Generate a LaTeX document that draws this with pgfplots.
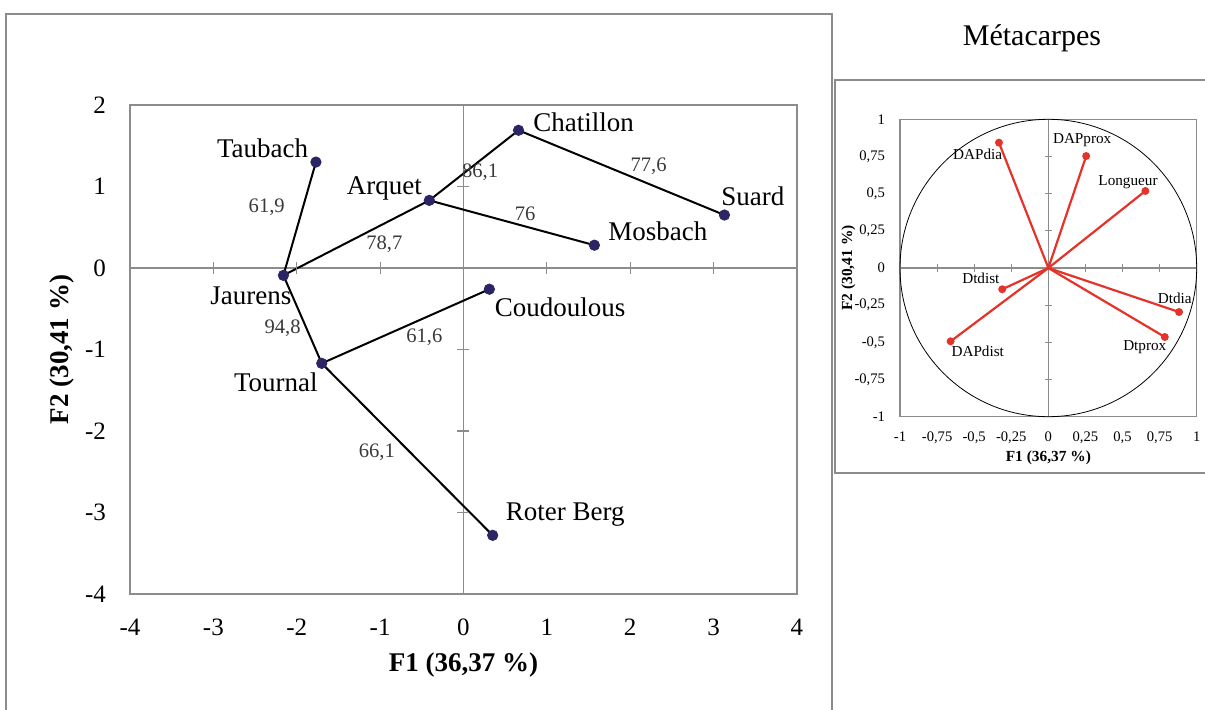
\documentclass[border=0pt]{standalone}
\usepackage{fontspec}
\setmainfont{Liberation Serif}
\usepackage{pgfplots}
\pgfplotsset{compat=1.18}
\definecolor{dotblue}{HTML}{2B2566}
\definecolor{vecred}{HTML}{E5332A}
\definecolor{framegray}{HTML}{8C8C8C}
\definecolor{numgray}{HTML}{3A3A3A}
\begin{document}
\begin{tikzpicture}
\useasboundingbox (0,0) rectangle (602.5pt,354.5pt);
% outer frames
\draw[framegray, line width=0.9pt] (3pt,-5pt) rectangle (416pt,347.5pt);
\draw[framegray, line width=0.9pt] (417.5pt,118pt) rectangle (604pt,314.5pt);
\node[font=\fontsize{15}{15}\selectfont] at (516pt,335.5pt) {Métacarpes};

% ---------- individuals ----------
\begin{axis}[
  at={(65pt,57.5pt)}, anchor=south west,
  scale only axis, width=333.5pt, height=244.5pt,
  xmin=-4, xmax=4, ymin=-4, ymax=2,
  clip=false,
  axis line style={framegray, line width=0.6pt},
  major tick length=0pt,
  xtick={-4,-3,-2,-1,0,1,2,3,4},
  xticklabels={-4,-3,-2,-1,0,1,2,3,4},
  ytick={-4,-3,-2,-1,0,1,2},
  yticklabels={-4,-3,-2,-1,0,1,2},
  tick label style={font=\fontsize{12.5}{12.5}\selectfont},
  xticklabel style={yshift=-9pt},
  yticklabel style={xshift=-8.5pt},
  xlabel={\textbf{F1 (36,37 \%)}},
  ylabel={\textbf{F2 (30,41 \%)}},
  label style={font=\fontsize{13.5}{13.5}\selectfont},
  xlabel style={at={(axis description cs:0.5,-0.145)}, anchor=center},
  ylabel style={at={(axis description cs:-0.102,0.5)}, anchor=center},
]
\draw[framegray, line width=0.6pt] (axis cs:-4,0) -- (axis cs:4,0);
\draw[framegray, line width=0.6pt] (axis cs:0,-4) -- (axis cs:0,2);
\addplot[only marks, framegray, mark=|, mark size=3pt, mark options={line width=0.6pt}]
  coordinates {(-3,0) (-2,0) (-1,0) (1,0) (2,0) (3,0)};
\addplot[only marks, framegray, mark=-, mark size=3pt, mark options={line width=0.6pt}]
  coordinates {(0,-3) (0,-2) (0,-1) (0,1)};
% links
\addplot[black, line width=1pt, no marks] coordinates {(-1.77,1.30) (-2.16,-0.09)};
\addplot[black, line width=1pt, no marks] coordinates {(-2.16,-0.09) (-0.41,0.83)};
\addplot[black, line width=1pt, no marks] coordinates {(-0.41,0.83) (0.66,1.69)};
\addplot[black, line width=1pt, no marks] coordinates {(0.66,1.69) (3.13,0.65)};
\addplot[black, line width=1pt, no marks] coordinates {(-0.41,0.83) (1.57,0.28)};
\addplot[black, line width=1pt, no marks] coordinates {(-2.16,-0.09) (-1.70,-1.17)};
\addplot[black, line width=1pt, no marks] coordinates {(-1.70,-1.17) (0.31,-0.26)};
\addplot[black, line width=1pt, no marks] coordinates {(-1.70,-1.17) (0.35,-3.28)};
% sites
\addplot[only marks, mark=*, mark size=2.6pt, dotblue] coordinates {
  (-1.77,1.30) (-2.16,-0.09) (-0.41,0.83) (0.66,1.69) (3.13,0.65)
  (1.57,0.28) (0.31,-0.26) (-1.70,-1.17) (0.35,-3.28)};
\begin{scope}[font=\fontsize{13.5}{13.5}\selectfont]
\node at (axis cs:-2.41,1.47) {Taubach};
\node at (axis cs:-0.95,0.98) {Arquet};
\node at (axis cs:1.44,1.79) {Chatillon};
\node at (axis cs:3.47,0.88) {Suard};
\node at (axis cs:2.33,0.45) {Mosbach};
\node at (axis cs:-2.55,-0.34) {Jaurens};
\node at (axis cs:1.16,-0.48) {Coudoulous};
\node at (axis cs:-2.25,-1.40) {Tournal};
\node at (axis cs:1.22,-3.02) {Roter Berg};
\end{scope}
\begin{scope}[font=\fontsize{10.3}{10.3}\selectfont, text=numgray]
\node at (axis cs:-2.36,0.74) {61,9};
\node at (axis cs:-0.95,0.29) {78,7};
\node at (axis cs:0.20,1.18) {86,1};
\node at (axis cs:2.22,1.25) {77,6};
\node at (axis cs:0.74,0.67) {76};
\node at (axis cs:-2.17,-0.74) {94,8};
\node at (axis cs:-0.47,-0.85) {61,6};
\node at (axis cs:-1.04,-2.26) {66,1};
\end{scope}
\end{axis}

% ---------- variables ----------
\begin{axis}[
  at={(450pt,146.15pt)}, anchor=south west,
  scale only axis, width=148.35pt, height=148.7pt,
  xmin=-1, xmax=1, ymin=-1, ymax=1,
  clip=false,
  axis line style={framegray, line width=0.6pt},
  major tick length=0pt,
  xtick={-1,-0.75,-0.5,-0.25,0,0.25,0.5,0.75,1},
  xticklabels={{-1},{-0,75},{-0,5},{-0,25},{0},{0,25},{0,5},{0,75},{1}},
  ytick={-1,-0.75,-0.5,-0.25,0,0.25,0.5,0.75,1},
  yticklabels={{-1},{-0,75},{-0,5},{-0,25},{0},{0,25},{0,5},{0,75},{1}},
  tick label style={font=\fontsize{7.3}{7.3}\selectfont},
  xticklabel style={yshift=-4pt},
  yticklabel style={xshift=-4pt},
  xlabel={\textbf{F1 (36,37 \%)}},
  ylabel={\textbf{F2 (30,41 \%)}},
  label style={font=\fontsize{7.7}{7.7}\selectfont},
  xlabel style={at={(axis description cs:0.5,-0.139)}, anchor=center},
  ylabel style={at={(axis description cs:-0.174,0.5)}, anchor=center},
]
\draw[framegray, line width=0.6pt] (axis cs:-1,0) -- (axis cs:1,0);
\draw[framegray, line width=0.6pt] (axis cs:0,-1) -- (axis cs:0,1);
\addplot[only marks, framegray, mark=|, mark size=1.8pt, mark options={line width=0.5pt}]
  coordinates {(-0.75,0) (-0.5,0) (-0.25,0) (0.25,0) (0.5,0) (0.75,0)};
\addplot[only marks, framegray, mark=-, mark size=1.8pt, mark options={line width=0.5pt}]
  coordinates {(0,-0.75) (0,-0.5) (0,-0.25) (0,0.25) (0,0.5) (0,0.75)};
\draw[black, line width=0.4pt] (axis cs:0,0) ellipse [x radius=1, y radius=1];
\addplot[vecred, line width=1.1pt, mark=*, mark size=1.4pt, mark indices={2}] coordinates {(0,0) (-0.333,0.843)};
\addplot[vecred, line width=1.1pt, mark=*, mark size=1.4pt, mark indices={2}] coordinates {(0,0) (0.255,0.753)};
\addplot[vecred, line width=1.1pt, mark=*, mark size=1.4pt, mark indices={2}] coordinates {(0,0) (0.654,0.518)};
\addplot[vecred, line width=1.1pt, mark=*, mark size=1.4pt, mark indices={2}] coordinates {(0,0) (0.881,-0.296)};
\addplot[vecred, line width=1.1pt, mark=*, mark size=1.4pt, mark indices={2}] coordinates {(0,0) (0.785,-0.464)};
\addplot[vecred, line width=1.1pt, mark=*, mark size=1.4pt, mark indices={2}] coordinates {(0,0) (-0.659,-0.493)};
\addplot[vecred, line width=1.1pt, mark=*, mark size=1.4pt, mark indices={2}] coordinates {(0,0) (-0.311,-0.143)};
\begin{scope}[font=\fontsize{7.6}{7.6}\selectfont]
\node at (axis cs:-0.477,0.767) {DAPdia};
\node at (axis cs:0.228,0.859) {DAPprox};
\node at (axis cs:0.537,0.580) {Longueur};
\node at (axis cs:-0.455,-0.069) {Dtdist};
\node at (axis cs:0.852,-0.204) {Dtdia};
\node at (axis cs:-0.476,-0.563) {DAPdist};
\node at (axis cs:0.650,-0.531) {Dtprox};
\end{scope}
\end{axis}
\end{tikzpicture}
\end{document}
